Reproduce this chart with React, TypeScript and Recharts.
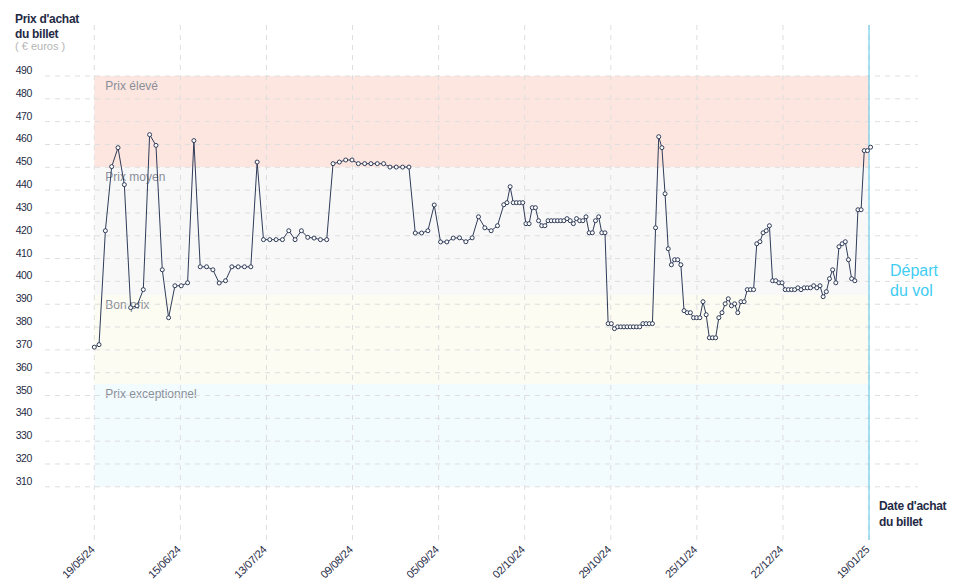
import React from 'react';
import {
  LineChart,
  Line,
  XAxis,
  YAxis,
  ReferenceArea,
  ReferenceLine,
} from 'recharts';

// Jours écoulés depuis le 19/05/24 (date d'achat du billet)
const jours: number[] = [
  0, 1.5, 3.5, 5.5, 7.5, 9.5, 11.5, 13.5, 15.5, 17.5, 19.5, 21.5, 23.5, 25.5, 27.5, 29.5,
  31.5, 33.5, 35.5, 37.5, 39.5, 41.5, 43.5, 45.5, 47.5, 49.5, 51.5, 53.5, 55.5, 57.5, 59.5,
  61.5, 63.5, 65.5, 67.5, 69.5, 71.5, 73.5, 75.5, 77.5, 79.5, 81.5, 83.5, 85.5, 87.5, 89.5,
  91.5, 93.5, 95.5, 97.5, 99.5, 101.5, 103.5, 105.5, 107.5, 109.5, 111.5, 113.5, 115.5,
  117.5, 119.5, 121.5, 123.5, 125.5, 127.5,
  129.5, 130.5, 131.5, 132.5, 133.5, 134.5, 135.5, 136.5, 137.5, 138.5, 139.5, 140.5,
  141.5, 142.5, 143.5, 144.5, 145.5, 146.5, 147.5, 148.5, 149.5, 150.5, 151.5, 152.5,
  153.5, 154.5, 155.5, 156.5, 157.5, 158.5, 159.5, 160.5, 161.5, 162.5, 163.5, 164.5,
  165.5, 166.5, 167.5, 168.5, 169.5, 170.5, 171.5, 172.5, 173.5, 174.5, 175.5, 176.5,
  177.5, 178.5, 179.5, 180.5, 181.5, 182.5, 183.5, 184.5, 185.5, 186.5, 187.5, 188.5,
  189.5, 190.5, 191.5, 192.5, 193.5, 194.5, 195.5, 196.5, 197.5, 198.5, 199.5, 200.5,
  201.5, 202.5, 203.5, 204.5, 205.5, 206.5, 207.5, 208.5, 209.5, 210.5, 211.5, 212.5,
  213.5, 214.5, 215.5, 216.5, 217.5, 218.5, 219.5, 220.5, 221.5, 222.5, 223.5, 224.5,
  225.5, 226.5, 227.5, 228.5, 229.5, 230.5, 231.5, 232.5, 233.5, 234.5, 235.5, 236.5,
  237.5, 238.5, 239.5, 240.5, 241.5, 242.5, 243.5, 244.5, 245.5,
];

// Prix d'achat du billet (€)
const prix: number[] = [
  371.2, 372.3, 422.2, 450.3, 458.6, 442.4, 388.5, 389.3, 396.4, 464.3, 459.6, 405.1, 384.1, 398.1, 398.1, 399.4,
  461.7, 406.4, 406.4, 405.1, 399.3, 400.3, 406.4, 406.4, 406.4, 406.4, 452.3, 418.3, 418.3, 418.3, 418.3,
  422.2, 418.3, 422.2, 419.3, 419.0, 418.3, 418.3, 451.6, 452.3, 453.2, 453.2, 451.6, 451.6, 451.6, 451.6,
  451.6, 450.1, 450.1, 450.1, 450.1, 421.2, 421.2, 422.2, 433.5, 417.3, 417.3, 419.0, 419.1,
  417.4, 419.1, 428.3, 423.5, 422.2, 424.4,
  433.6, 434.5, 441.5, 434.5, 434.5, 434.5, 434.5, 425.3, 425.3, 432.3, 432.3, 426.6,
  424.4, 424.4, 426.6, 426.6, 426.6, 426.6, 426.6, 426.6, 427.5, 426.6, 425.3, 427.5,
  426.6, 426.6, 428.3, 421.3, 421.3, 426.6, 428.3, 421.3, 421.3, 381.5, 381.5, 379.3,
  380.1, 380.1, 380.1, 380.1, 380.1, 380.1, 380.1, 380.1, 381.5, 381.5, 381.5, 381.5,
  423.5, 463.4, 458.6, 438.4, 414.3, 407.3, 409.5, 409.5, 407.3, 387.2, 386.3, 386.3,
  384.1, 384.1, 384.1, 391.1, 385.4, 375.3, 375.3, 375.3, 384.1, 386.3, 390.2, 392.4,
  389.3, 390.2, 386.3, 391.1, 391.1, 396.4, 396.4, 396.4, 416.5, 417.4, 421.3, 422.2,
  424.4, 400.3, 400.3, 399.4, 399.4, 396.4, 396.4, 396.4, 396.4, 397.2, 396.4, 397.2,
  397.2, 397.2, 398.1, 397.2, 398.1, 393.3, 395.5, 401.2, 405.1, 399.4, 415.2, 416.5,
  417.4, 409.5, 401.2, 400.3, 431.4, 431.4, 457.3, 457.3, 458.8,
];

const xTickLabels: string[] = [
  '19/05/24', '15/06/24', '13/07/24', '09/08/24', '05/09/24',
  '02/10/24', '29/10/24', '25/11/24', '22/12/24', '19/01/25',
];
const xTickDays: number[] = [0, 27.22, 54.44, 81.67, 108.89, 136.11, 163.33, 190.56, 217.78, 245];

const yTicks: number[] = [310, 320, 330, 340, 350, 360, 370, 380, 390, 400, 410, 420, 430, 440, 450, 460, 470, 480, 490];

const bandLabels: string[] = ['Prix élevé', 'Prix moyen', 'Bon prix', 'Prix exceptionnel'];
const bandLimits: [number, number][] = [
  [450, 490],
  [394, 450],
  [355, 394],
  [310, 355],
];
const bandColors: string[] = ['#fee6e0', '#f8f8f9', '#fcfcf3', '#f2fbfe'];

const departDay = 245;

const data = jours.map((j, i) => ({ jour: j, prix: prix[i] }));

const NAVY = '#1f2a44';
const LINE = '#2f3b58';
const GRID = '#dedede';
const FONT = '"Liberation Sans", Arial, Helvetica, sans-serif';

const W = 958;
const H = 585;

const YTick = (props: any) => {
  const { y, payload } = props;
  return (
    <text x={32} y={y - 2} textAnchor="end" fontSize={10.5} fill={NAVY} fontFamily={FONT} letterSpacing={-0.4}>
      {payload.value}
    </text>
  );
};

const XTick = (props: any) => {
  const { x, payload } = props;
  const idx = xTickDays.indexOf(payload.value);
  const label = idx >= 0 ? xTickLabels[idx] : '';
  const px = x + 1;
  const py = 550.5;
  return (
    <text
      x={px}
      y={py}
      textAnchor="end"
      fontSize={11}
      fill={NAVY}
      fontFamily={FONT}
      letterSpacing={-0.3}
      transform={`rotate(-45, ${px}, ${py})`}
    >
      {label}
    </text>
  );
};

const bandLabel = (text: string) => (props: any) => {
  const vb = props.viewBox || {};
  return (
    <text x={vb.x + 11} y={vb.y + 14} fontSize={12} fill="#8a8e98" fontFamily={FONT}>
      {text}
    </text>
  );
};

export default function App() {
  return (
    <div style={{ position: 'relative', width: W, height: H, fontFamily: FONT }}>
      <style>{'html,body{margin:0;padding:0;overflow:hidden;}'}</style>
      <LineChart
        width={W}
        height={H}
        data={data}
        margin={{ top: 25, right: 40, bottom: 15, left: 0 }}
      >
        <XAxis
          dataKey="jour"
          type="number"
          domain={[-15.59, 260.49]}
          allowDataOverflow
          ticks={xTickDays}
          interval={0}
          tick={<XTick />}
          axisLine={false}
          tickLine={false}
          height={30}
        />
        <YAxis
          type="number"
          domain={[286.7, 512.35]}
          allowDataOverflow
          ticks={yTicks}
          interval={0}
          tick={<YTick />}
          axisLine={false}
          tickLine={false}
          width={45}
        />
        {bandLimits.map((b, i) => (
          <ReferenceArea
            key={bandLabels[i]}
            x1={0}
            x2={departDay}
            y1={b[0]}
            y2={b[1]}
            fill={bandColors[i]}
            fillOpacity={1}
            stroke="none"
            label={bandLabel(bandLabels[i])}
          />
        ))}
        {yTicks.map((v) => (
          <ReferenceLine key={'h' + v} y={v} stroke={GRID} strokeDasharray="5 5" strokeWidth={1} />
        ))}
        {xTickDays.map((v) => (
          <ReferenceLine key={'v' + v} x={v} stroke={GRID} strokeDasharray="5 5" strokeWidth={1} />
        ))}
        <ReferenceLine x={departDay} stroke="#55c6e6" strokeWidth={1} />
        <Line
          type="linear"
          dataKey="prix"
          stroke={LINE}
          strokeWidth={1}
          dot={{ r: 2, fill: '#ffffff', stroke: LINE, strokeWidth: 1 }}
          activeDot={false}
          isAnimationActive={false}
        />
      </LineChart>
      <svg
        width={W}
        height={H}
        style={{ position: 'absolute', left: 0, top: 0, pointerEvents: 'none' }}
      >
        <text x={15} y={23} fontSize={12} fontWeight="bold" fill={NAVY} fontFamily={FONT} letterSpacing={-0.3}>
          Prix d'achat
        </text>
        <text x={15} y={37.5} fontSize={12} fontWeight="bold" fill={NAVY} fontFamily={FONT} letterSpacing={-0.3}>
          du billet
        </text>
        <text x={15} y={50} fontSize={11} fill="#b5b5b5" fontFamily={FONT}>
          ( € euros )
        </text>
        <text x={879} y={510} fontSize={12} fontWeight="bold" fill={NAVY} fontFamily={FONT} letterSpacing={-0.3}>
          Date d'achat
        </text>
        <text x={879} y={525.5} fontSize={12} fontWeight="bold" fill={NAVY} fontFamily={FONT} letterSpacing={-0.3}>
          du billet
        </text>
        <text x={890} y={275.5} fontSize={16} fill="#3fcdf2" fontFamily={FONT}>
          Départ
        </text>
        <text x={890} y={295.5} fontSize={16} fill="#3fcdf2" fontFamily={FONT}>
          du vol
        </text>
      </svg>
    </div>
  );
}
